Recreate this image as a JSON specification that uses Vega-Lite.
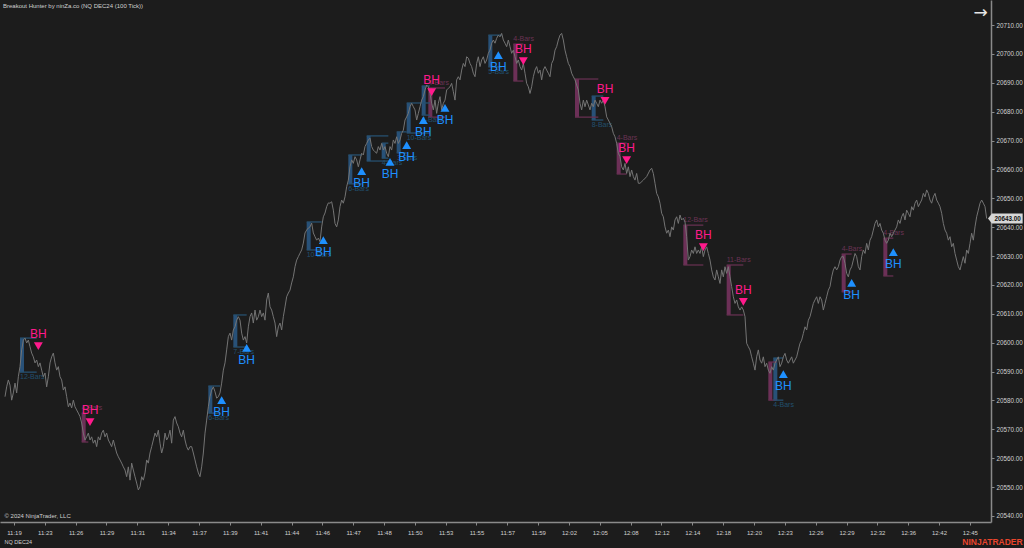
{
"$schema": "https://vega.github.io/schema/vega-lite/v6.json",
"width": 991, "height": 522,
"autosize": {"type": "none"},
"padding": {"left": 0, "top": 0, "right": 33, "bottom": 26},
"background": "#1c1c1c",
"config": {"font": "Liberation Sans", "view": {"stroke": null}, "axis": {"grid": false}},
"title": {"text": "Breakout Hunter by ninZa.co (NQ DEC24 (100 Tick))", "anchor": "start", "frame": "group", "orient": "top", "offset": -12, "baseline": "middle", "dx": 3, "fontSize": 6, "fontWeight": "normal", "color": "#d0d0d0"},
"datasets": {
"boxes": [
{"start":12,"end":22,"hi":20601.6,"lo":20589.8,"kind":"bull","label":"12-Bars"},
{"start":49,"end":53,"hi":20575.6,"lo":20565.6,"kind":"bear","label":"4-Bars"},
{"start":125,"end":132,"hi":20585.0,"lo":20575.6,"kind":"bull","label":"6-Bars"},
{"start":140,"end":148,"hi":20609.6,"lo":20598.5,"kind":"bull","label":"7-Bars"},
{"start":184,"end":193,"hi":20641.8,"lo":20632.1,"kind":"bull","label":"10-Bars"},
{"start":209,"end":217,"hi":20665.0,"lo":20655.0,"kind":"bull","label":"6-Bars"},
{"start":220,"end":233,"hi":20671.6,"lo":20662.9,"kind":"bull","label":""},
{"start":229,"end":233,"hi":20669.1,"lo":20663.9,"kind":"bull","label":"4-Bars"},
{"start":238,"end":244,"hi":20673.0,"lo":20665.7,"kind":"bull","label":"3-Bars"},
{"start":244,"end":258,"hi":20683.0,"lo":20672.6,"kind":"bull","label":"10-Bars"},
{"start":253,"end":258,"hi":20688.9,"lo":20678.8,"kind":"bull","label":"4-Bars"},
{"start":257,"end":267,"hi":20688.2,"lo":20678.1,"kind":"bear","label":"4-Bars"},
{"start":293,"end":301,"hi":20706.5,"lo":20695.5,"kind":"bull","label":"5-Bars"},
{"start":308,"end":314,"hi":20703.4,"lo":20690.6,"kind":"bear","label":"4-Bars"},
{"start":345,"end":359,"hi":20691.3,"lo":20678.1,"kind":"bear","label":""},
{"start":355,"end":362,"hi":20685.4,"lo":20677.1,"kind":"bull","label":"8-Bars"},
{"start":370,"end":376,"hi":20669.1,"lo":20658.4,"kind":"bear","label":"4-Bars"},
{"start":410,"end":422,"hi":20640.7,"lo":20626.9,"kind":"bear","label":"12-Bars"},
{"start":436,"end":446,"hi":20626.9,"lo":20609.6,"kind":"bear","label":"11-Bars"},
{"start":461,"end":466,"hi":20593.3,"lo":20580.1,"kind":"bear","label":""},
{"start":464,"end":470,"hi":20594.7,"lo":20580.1,"kind":"bull","label":"4-Bars"},
{"start":505,"end":511,"hi":20630.7,"lo":20617.6,"kind":"bear","label":"4-Bars"},
{"start":530,"end":536,"hi":20636.2,"lo":20623.1,"kind":"bear","label":"4-Bars"}
],
"signals": [
{"bar":23,"price":20598.8,"dir":"down"},
{"bar":54,"price":20572.5,"dir":"down"},
{"bar":133,"price":20580.1,"dir":"up"},
{"bar":148,"price":20598.2,"dir":"up"},
{"bar":194,"price":20635.5,"dir":"up"},
{"bar":217,"price":20659.4,"dir":"up"},
{"bar":234,"price":20662.6,"dir":"up"},
{"bar":244,"price":20668.4,"dir":"up"},
{"bar":254,"price":20677.1,"dir":"up"},
{"bar":267,"price":20681.3,"dir":"up"},
{"bar":259,"price":20686.8,"dir":"down"},
{"bar":299,"price":20699.6,"dir":"up"},
{"bar":314,"price":20697.5,"dir":"down"},
{"bar":363,"price":20683.7,"dir":"down"},
{"bar":376,"price":20663.2,"dir":"down"},
{"bar":422,"price":20633.1,"dir":"down"},
{"bar":446,"price":20614.1,"dir":"down"},
{"bar":470,"price":20589.1,"dir":"up"},
{"bar":511,"price":20620.7,"dir":"up"},
{"bar":536,"price":20631.4,"dir":"up"}
],
"last": [{"bar":592,"price":20643.0,"text":"20643.00"}],
"price": [
{"bar":3,"price":20581.3},{"bar":4,"price":20584.7},{"bar":5,"price":20587.1},{"bar":6,"price":20585.3},{"bar":7,"price":20580.1},{"bar":8,"price":20582.6},{"bar":9,"price":20586.0},{"bar":10,"price":20582.6},{"bar":11,"price":20588.2},{"bar":12,"price":20591.7},{"bar":13,"price":20597.5},{"bar":14,"price":20600.9},{"bar":15,"price":20601.6},{"bar":16,"price":20599.9},{"bar":17,"price":20600.9},{"bar":18,"price":20598.6},{"bar":19,"price":20596.4},{"bar":20,"price":20595.1},{"bar":21,"price":20593.0},{"bar":22,"price":20594.0},{"bar":23,"price":20591.7},{"bar":24,"price":20593.0},{"bar":25,"price":20590.5},{"bar":26,"price":20588.2},{"bar":27,"price":20589.5},{"bar":28,"price":20584.7},{"bar":29,"price":20588.2},{"bar":30,"price":20593.0},{"bar":31,"price":20595.1},{"bar":32,"price":20596.4},{"bar":33,"price":20593.0},{"bar":34,"price":20590.5},{"bar":35,"price":20591.7},{"bar":36,"price":20588.2},{"bar":37,"price":20587.1},{"bar":38,"price":20583.6},{"bar":39,"price":20584.7},{"bar":40,"price":20581.3},{"bar":41,"price":20577.8},{"bar":42,"price":20579.1},{"bar":43,"price":20577.4},{"bar":44,"price":20580.1},{"bar":45,"price":20577.8},{"bar":46,"price":20576.7},{"bar":47,"price":20575.6},{"bar":48,"price":20574.4},{"bar":49,"price":20572.2},{"bar":50,"price":20568.7},
{"bar":51,"price":20566.3},{"bar":52,"price":20567.4},{"bar":53,"price":20568.7},{"bar":54,"price":20566.3},{"bar":55,"price":20567.4},{"bar":56,"price":20565.2},{"bar":57,"price":20566.3},{"bar":58,"price":20564.0},{"bar":59,"price":20567.4},{"bar":60,"price":20566.3},{"bar":61,"price":20568.7},{"bar":62,"price":20569.7},{"bar":63,"price":20567.4},{"bar":64,"price":20568.7},{"bar":65,"price":20566.3},{"bar":66,"price":20565.2},{"bar":67,"price":20564.0},{"bar":68,"price":20566.3},{"bar":69,"price":20564.0},{"bar":70,"price":20561.8},{"bar":71,"price":20560.5},{"bar":72,"price":20559.4},{"bar":73,"price":20558.3},{"bar":74,"price":20557.0},{"bar":75,"price":20555.9},{"bar":76,"price":20553.6},{"bar":77,"price":20557.0},{"bar":78,"price":20552.4},{"bar":79,"price":20558.3},{"bar":80,"price":20555.9},{"bar":81,"price":20553.6},{"bar":82,"price":20551.4},{"bar":83,"price":20549.0},{"bar":84,"price":20550.1},{"bar":85,"price":20553.6},{"bar":86,"price":20552.4},{"bar":87,"price":20554.9},{"bar":88,"price":20559.4},{"bar":89,"price":20558.3},{"bar":90,"price":20561.8},{"bar":91,"price":20564.0},{"bar":92,"price":20566.3},{"bar":93,"price":20568.7},{"bar":94,"price":20567.4},{"bar":95,"price":20569.7},{"bar":96,"price":20565.2},{"bar":97,"price":20561.8},{"bar":98,"price":20564.0},{"bar":99,"price":20568.7},{"bar":100,"price":20566.3},
{"bar":101,"price":20567.4},{"bar":102,"price":20569.7},{"bar":103,"price":20565.2},{"bar":104,"price":20573.2},{"bar":105,"price":20574.4},{"bar":106,"price":20572.2},{"bar":107,"price":20570.9},{"bar":108,"price":20568.7},{"bar":109,"price":20567.4},{"bar":110,"price":20569.7},{"bar":111,"price":20566.3},{"bar":112,"price":20564.0},{"bar":113,"price":20562.8},{"bar":114,"price":20564.0},{"bar":115,"price":20564.0},{"bar":116,"price":20561.8},{"bar":117,"price":20559.4},{"bar":118,"price":20557.0},{"bar":119,"price":20554.9},{"bar":120,"price":20553.6},{"bar":121,"price":20557.0},{"bar":122,"price":20561.8},{"bar":123,"price":20568.7},{"bar":124,"price":20573.2},{"bar":125,"price":20577.8},{"bar":126,"price":20581.3},{"bar":127,"price":20583.6},{"bar":128,"price":20584.7},{"bar":129,"price":20583.0},{"bar":130,"price":20580.8},{"bar":131,"price":20581.3},{"bar":132,"price":20582.6},{"bar":133,"price":20586.0},{"bar":134,"price":20590.5},{"bar":135,"price":20593.0},{"bar":136,"price":20597.5},{"bar":137,"price":20602.1},{"bar":138,"price":20603.3},{"bar":139,"price":20600.9},{"bar":140,"price":20604.4},{"bar":141,"price":20605.5},{"bar":142,"price":20607.8},{"bar":143,"price":20609.0},{"bar":144,"price":20607.8},{"bar":145,"price":20603.3},{"bar":146,"price":20600.9},{"bar":147,"price":20602.1},{"bar":148,"price":20599.9},{"bar":149,"price":20605.5},{"bar":150,"price":20609.0},
{"bar":151,"price":20610.3},{"bar":152,"price":20606.8},{"bar":153,"price":20611.3},{"bar":154,"price":20607.8},{"bar":155,"price":20609.0},{"bar":156,"price":20611.3},{"bar":157,"price":20609.0},{"bar":158,"price":20610.3},{"bar":159,"price":20607.8},{"bar":160,"price":20614.8},{"bar":161,"price":20617.2},{"bar":162,"price":20612.4},{"bar":163,"price":20611.3},{"bar":164,"price":20609.0},{"bar":165,"price":20606.8},{"bar":166,"price":20602.1},{"bar":167,"price":20605.5},{"bar":168,"price":20606.8},{"bar":169,"price":20604.4},{"bar":170,"price":20609.0},{"bar":171,"price":20612.4},{"bar":172,"price":20615.9},{"bar":173,"price":20617.2},{"bar":174,"price":20618.2},{"bar":175,"price":20620.7},{"bar":176,"price":20622.8},{"bar":177,"price":20626.3},{"bar":178,"price":20628.6},{"bar":179,"price":20629.8},{"bar":180,"price":20631.0},{"bar":181,"price":20632.1},{"bar":182,"price":20634.5},{"bar":183,"price":20638.0},{"bar":184,"price":20639.0},{"bar":185,"price":20639.7},{"bar":186,"price":20640.1},{"bar":187,"price":20641.4},{"bar":188,"price":20638.0},{"bar":189,"price":20636.7},{"bar":190,"price":20635.5},{"bar":191,"price":20636.2},{"bar":192,"price":20635.0},{"bar":193,"price":20640.1},{"bar":194,"price":20643.6},{"bar":195,"price":20644.9},{"bar":196,"price":20647.1},{"bar":197,"price":20648.4},{"bar":198,"price":20648.3},{"bar":199,"price":20648.8},{"bar":200,"price":20645.9},
{"bar":201,"price":20641.3},{"bar":202,"price":20640.1},{"bar":203,"price":20642.5},{"bar":204,"price":20647.1},{"bar":205,"price":20649.4},{"bar":206,"price":20648.3},{"bar":207,"price":20650.5},{"bar":208,"price":20654.0},{"bar":209,"price":20656.3},{"bar":210,"price":20660.9},{"bar":211,"price":20663.3},{"bar":212,"price":20662.1},{"bar":213,"price":20664.4},{"bar":214,"price":20663.3},{"bar":215,"price":20660.9},{"bar":216,"price":20663.3},{"bar":217,"price":20665.6},{"bar":218,"price":20665.0},{"bar":219,"price":20667.9},{"bar":220,"price":20669.0},{"bar":221,"price":20670.2},{"bar":222,"price":20670.8},{"bar":223,"price":20667.9},{"bar":224,"price":20666.7},{"bar":225,"price":20666.1},{"bar":226,"price":20665.6},{"bar":227,"price":20667.9},{"bar":228,"price":20666.7},{"bar":229,"price":20669.0},{"bar":230,"price":20666.7},{"bar":231,"price":20667.9},{"bar":232,"price":20665.6},{"bar":233,"price":20664.4},{"bar":234,"price":20667.9},{"bar":235,"price":20666.7},{"bar":236,"price":20670.2},{"bar":237,"price":20669.0},{"bar":238,"price":20671.3},{"bar":239,"price":20669.0},{"bar":240,"price":20670.2},{"bar":241,"price":20672.5},{"bar":242,"price":20673.6},{"bar":243,"price":20677.1},{"bar":244,"price":20678.2},{"bar":245,"price":20679.4},{"bar":246,"price":20681.7},{"bar":247,"price":20682.9},{"bar":248,"price":20681.7},{"bar":249,"price":20680.6},{"bar":250,"price":20677.1},
{"bar":251,"price":20679.4},{"bar":252,"price":20681.7},{"bar":253,"price":20684.0},{"bar":254,"price":20685.2},{"bar":255,"price":20687.5},{"bar":256,"price":20689.2},{"bar":257,"price":20688.6},{"bar":258,"price":20686.3},{"bar":259,"price":20682.9},{"bar":260,"price":20680.6},{"bar":261,"price":20684.0},{"bar":262,"price":20679.4},{"bar":263,"price":20682.9},{"bar":264,"price":20685.2},{"bar":265,"price":20680.6},{"bar":266,"price":20682.9},{"bar":267,"price":20684.0},{"bar":268,"price":20687.5},{"bar":269,"price":20688.1},{"bar":270,"price":20688.6},{"bar":271,"price":20689.8},{"bar":272,"price":20686.9},{"bar":273,"price":20684.0},{"bar":274,"price":20691.0},{"bar":275,"price":20692.1},{"bar":276,"price":20691.0},{"bar":277,"price":20694.4},{"bar":278,"price":20696.7},{"bar":279,"price":20695.6},{"bar":280,"price":20699.0},{"bar":281,"price":20698.5},{"bar":282,"price":20696.7},{"bar":283,"price":20695.6},{"bar":284,"price":20693.3},{"bar":285,"price":20692.1},{"bar":286,"price":20696.7},{"bar":287,"price":20699.0},{"bar":288,"price":20695.6},{"bar":289,"price":20697.9},{"bar":290,"price":20699.0},{"bar":291,"price":20696.7},{"bar":292,"price":20697.9},{"bar":293,"price":20700.2},{"bar":294,"price":20701.3},{"bar":295,"price":20703.7},{"bar":296,"price":20704.8},{"bar":297,"price":20703.7},{"bar":298,"price":20705.4},{"bar":299,"price":20706.5},{"bar":300,"price":20705.9},
{"bar":301,"price":20707.1},{"bar":302,"price":20704.8},{"bar":303,"price":20703.7},{"bar":304,"price":20702.5},{"bar":305,"price":20704.8},{"bar":306,"price":20702.5},{"bar":307,"price":20700.2},{"bar":308,"price":20701.3},{"bar":309,"price":20699.0},{"bar":310,"price":20696.7},{"bar":311,"price":20697.9},{"bar":312,"price":20695.6},{"bar":313,"price":20694.4},{"bar":314,"price":20696.7},{"bar":315,"price":20693.3},{"bar":316,"price":20689.8},{"bar":317,"price":20688.6},{"bar":318,"price":20686.3},{"bar":319,"price":20688.6},{"bar":320,"price":20692.1},{"bar":321,"price":20694.4},{"bar":322,"price":20695.6},{"bar":323,"price":20693.3},{"bar":324,"price":20694.4},{"bar":325,"price":20691.0},{"bar":326,"price":20694.4},{"bar":327,"price":20695.6},{"bar":328,"price":20694.4},{"bar":329,"price":20693.3},{"bar":330,"price":20692.1},{"bar":331,"price":20696.7},{"bar":332,"price":20697.9},{"bar":333,"price":20701.3},{"bar":334,"price":20702.5},{"bar":335,"price":20704.8},{"bar":336,"price":20706.5},{"bar":337,"price":20707.1},{"bar":338,"price":20704.8},{"bar":339,"price":20701.3},{"bar":340,"price":20699.0},{"bar":341,"price":20696.7},{"bar":342,"price":20695.6},{"bar":343,"price":20693.3},{"bar":344,"price":20692.1},{"bar":345,"price":20691.0},{"bar":346,"price":20689.2},{"bar":347,"price":20687.5},{"bar":348,"price":20682.9},{"bar":349,"price":20680.6},{"bar":350,"price":20684.0},
{"bar":351,"price":20681.7},{"bar":352,"price":20684.0},{"bar":353,"price":20682.3},{"bar":354,"price":20680.6},{"bar":355,"price":20682.9},{"bar":356,"price":20681.7},{"bar":357,"price":20684.0},{"bar":358,"price":20682.9},{"bar":359,"price":20681.7},{"bar":360,"price":20684.0},{"bar":361,"price":20682.9},{"bar":362,"price":20684.0},{"bar":363,"price":20681.7},{"bar":364,"price":20678.2},{"bar":365,"price":20677.1},{"bar":366,"price":20676.0},{"bar":367,"price":20674.8},{"bar":368,"price":20672.5},{"bar":369,"price":20671.3},{"bar":370,"price":20669.0},{"bar":371,"price":20665.6},{"bar":372,"price":20664.4},{"bar":373,"price":20660.9},{"bar":374,"price":20659.8},{"bar":375,"price":20662.1},{"bar":376,"price":20658.6},{"bar":377,"price":20660.9},{"bar":378,"price":20657.5},{"bar":379,"price":20659.8},{"bar":380,"price":20657.5},{"bar":381,"price":20656.3},{"bar":382,"price":20658.6},{"bar":383,"price":20655.2},{"bar":384,"price":20655.2},{"bar":386,"price":20656.3},{"bar":388,"price":20657.5},{"bar":390,"price":20659.8},{"bar":391,"price":20660.4},{"bar":392,"price":20658.6},{"bar":393,"price":20655.2},{"bar":394,"price":20651.7},{"bar":395,"price":20650.5},{"bar":396,"price":20648.3},{"bar":397,"price":20644.8},{"bar":398,"price":20643.6},{"bar":399,"price":20640.1},{"bar":400,"price":20637.9},
{"bar":401,"price":20639.0},{"bar":402,"price":20636.7},{"bar":403,"price":20640.1},{"bar":404,"price":20639.0},{"bar":405,"price":20642.5},{"bar":406,"price":20643.6},{"bar":407,"price":20641.3},{"bar":408,"price":20644.2},{"bar":409,"price":20642.5},{"bar":410,"price":20643.1},{"bar":411,"price":20641.8},{"bar":412,"price":20636.7},{"bar":413,"price":20628.6},{"bar":414,"price":20629.8},{"bar":415,"price":20632.1},{"bar":416,"price":20630.9},{"bar":417,"price":20633.2},{"bar":418,"price":20630.9},{"bar":419,"price":20632.1},{"bar":420,"price":20630.9},{"bar":421,"price":20633.2},{"bar":422,"price":20629.8},{"bar":423,"price":20632.1},{"bar":424,"price":20633.2},{"bar":425,"price":20630.9},{"bar":426,"price":20628.6},{"bar":427,"price":20625.2},{"bar":428,"price":20622.8},{"bar":429,"price":20621.7},{"bar":430,"price":20625.2},{"bar":431,"price":20622.8},{"bar":432,"price":20620.5},{"bar":433,"price":20625.2},{"bar":434,"price":20622.8},{"bar":435,"price":20626.3},{"bar":436,"price":20624.0},{"bar":437,"price":20626.3},{"bar":438,"price":20622.8},{"bar":439,"price":20619.4},{"bar":440,"price":20615.9},{"bar":441,"price":20613.6},{"bar":442,"price":20614.8},{"bar":443,"price":20612.4},{"bar":444,"price":20611.3},{"bar":445,"price":20612.4},{"bar":446,"price":20611.3},{"bar":447,"price":20609.0},{"bar":448,"price":20599.8},{"bar":449,"price":20598.6},{"bar":450,"price":20597.5},
{"bar":451,"price":20595.1},{"bar":452,"price":20592.9},{"bar":453,"price":20590.5},{"bar":454,"price":20595.1},{"bar":455,"price":20597.5},{"bar":456,"price":20594.0},{"bar":457,"price":20592.9},{"bar":458,"price":20595.1},{"bar":459,"price":20591.7},{"bar":460,"price":20592.9},{"bar":461,"price":20590.5},{"bar":462,"price":20589.4},{"bar":463,"price":20591.7},{"bar":464,"price":20590.5},{"bar":465,"price":20592.9},{"bar":466,"price":20594.0},{"bar":467,"price":20595.1},{"bar":468,"price":20591.7},{"bar":469,"price":20592.9},{"bar":470,"price":20595.1},{"bar":471,"price":20596.3},{"bar":472,"price":20594.0},{"bar":473,"price":20592.9},{"bar":474,"price":20594.0},{"bar":475,"price":20595.1},{"bar":476,"price":20592.9},{"bar":477,"price":20594.0},{"bar":478,"price":20595.1},{"bar":479,"price":20597.5},{"bar":480,"price":20599.8},{"bar":481,"price":20600.9},{"bar":482,"price":20603.2},{"bar":483,"price":20605.5},{"bar":484,"price":20604.4},{"bar":485,"price":20607.8},{"bar":486,"price":20609.0},{"bar":487,"price":20611.3},{"bar":488,"price":20613.6},{"bar":489,"price":20614.8},{"bar":490,"price":20615.9},{"bar":491,"price":20613.6},{"bar":492,"price":20615.9},{"bar":493,"price":20614.8},{"bar":494,"price":20611.3},{"bar":495,"price":20613.6},{"bar":496,"price":20615.9},{"bar":497,"price":20618.2},{"bar":498,"price":20619.4},{"bar":499,"price":20622.8},{"bar":500,"price":20625.2},
{"bar":501,"price":20626.3},{"bar":502,"price":20625.2},{"bar":503,"price":20626.3},{"bar":504,"price":20628.6},{"bar":505,"price":20629.8},{"bar":506,"price":20629.8},{"bar":507,"price":20627.5},{"bar":508,"price":20624.0},{"bar":509,"price":20622.8},{"bar":510,"price":20625.2},{"bar":511,"price":20626.3},{"bar":512,"price":20628.6},{"bar":513,"price":20630.9},{"bar":514,"price":20629.8},{"bar":515,"price":20626.3},{"bar":516,"price":20625.2},{"bar":517,"price":20629.8},{"bar":518,"price":20632.1},{"bar":519,"price":20630.9},{"bar":520,"price":20634.4},{"bar":521,"price":20632.1},{"bar":522,"price":20635.5},{"bar":523,"price":20636.7},{"bar":524,"price":20639.0},{"bar":525,"price":20641.3},{"bar":526,"price":20642.5},{"bar":527,"price":20640.1},{"bar":528,"price":20641.3},{"bar":529,"price":20639.0},{"bar":530,"price":20637.9},{"bar":531,"price":20635.5},{"bar":532,"price":20634.4},{"bar":533,"price":20635.5},{"bar":534,"price":20637.9},{"bar":535,"price":20636.7},{"bar":536,"price":20637.9},{"bar":537,"price":20639.0},{"bar":538,"price":20640.1},{"bar":539,"price":20642.5},{"bar":540,"price":20641.3},{"bar":541,"price":20643.6},{"bar":542,"price":20644.8},{"bar":543,"price":20642.5},{"bar":544,"price":20645.9},{"bar":545,"price":20644.8},{"bar":546,"price":20643.6},{"bar":547,"price":20647.1},{"bar":548,"price":20645.9},{"bar":549,"price":20648.3},{"bar":550,"price":20649.4},
{"bar":551,"price":20647.1},{"bar":552,"price":20648.3},{"bar":553,"price":20649.4},{"bar":554,"price":20651.7},{"bar":555,"price":20650.5},{"bar":556,"price":20652.9},{"bar":557,"price":20651.7},{"bar":558,"price":20649.4},{"bar":559,"price":20648.3},{"bar":560,"price":20650.5},{"bar":561,"price":20651.7},{"bar":562,"price":20649.4},{"bar":563,"price":20648.3},{"bar":564,"price":20647.1},{"bar":565,"price":20644.8},{"bar":566,"price":20641.3},{"bar":567,"price":20639.0},{"bar":568,"price":20637.9},{"bar":569,"price":20635.5},{"bar":570,"price":20636.7},{"bar":571,"price":20633.2},{"bar":572,"price":20634.4},{"bar":573,"price":20630.9},{"bar":574,"price":20628.6},{"bar":575,"price":20626.3},{"bar":576,"price":20625.2},{"bar":577,"price":20627.5},{"bar":578,"price":20629.8},{"bar":579,"price":20627.5},{"bar":580,"price":20632.1},{"bar":581,"price":20630.9},{"bar":582,"price":20634.4},{"bar":583,"price":20637.9},{"bar":584,"price":20635.5},{"bar":585,"price":20640.1},{"bar":586,"price":20643.6},{"bar":587,"price":20645.9},{"bar":588,"price":20648.3},{"bar":589,"price":20649.4},{"bar":590,"price":20648.3},{"bar":591,"price":20647.1},{"bar":592,"price":20643.0}
]
},
"resolve": {"axis": {"x": "independent", "y": "independent"}},
"layer": [
{
"data": {"name": "price"},
"mark": {"type": "line", "color": "#858585", "strokeWidth": 1, "opacity": 0},
"encoding": {
"x": {"field": "bar", "type": "quantitative", "scale": {"domain": [0, 594.6], "nice": false, "zero": false},
"axis": {"orient": "bottom", "values": [8.4,26.9,45.4,63.9,82.4,100.9,119.4,137.9,156.4,174.9,193.4,211.9,230.4,248.9,267.4,285.9,304.4,322.9,341.4,359.9,378.4,396.9,415.4,433.9,452.4,470.9,489.4,507.9,526.4,544.9,563.4,581.9],
"labelExpr": "['11:19','11:23','11:26','11:29','11:31','11:34','11:37','11:39','11:41','11:44','11:46','11:47','11:48','11:50','11:53','11:55','11:57','11:59','12:02','12:05','12:08','12:12','12:14','12:18','12:20','12:23','12:26','12:29','12:32','12:36','12:42','12:45'][round((datum.value-8.4)/18.5)]",
"domainColor": "#8a8a8a", "domainWidth": 1.5, "tickColor": "#8a8a8a", "tickSize": 3, "tickWidth": 1,
"labelColor": "#d0d0d0", "labelFontSize": 6, "labelPadding": 4, "labelOverlap": false, "labelFlush": false,
"title": "© 2024 NinjaTrader, LLC", "titleX": 4, "titleY": -7, "titleAlign": "left", "titleAnchor": null, "titleBaseline": "middle", "titleFontSize": 6, "titleFontWeight": "normal", "titleColor": "#d0d0d0"}},
"y": {"field": "price", "type": "quantitative", "scale": {"domain": [20537.91, 20718.66], "nice": false, "zero": false},
"axis": {"orient": "right", "values": [20540,20550,20560,20570,20580,20590,20600,20610,20620,20630,20640,20650,20660,20670,20680,20690,20700,20710],
"format": ".2f", "domainColor": "#8a8a8a", "domainWidth": 1.5, "tickColor": "#8a8a8a", "tickSize": 3, "tickWidth": 1,
"labelColor": "#d0d0d0", "labelFontSize": 6.3, "labelPadding": 2, "labelOverlap": false, "labelFlush": false,
"title": "NQ DEC24", "titleX": -987, "titleY": 541, "titleAngle": 0, "titleAlign": "left", "titleAnchor": null, "titleBaseline": "middle", "titleFontSize": 5.5, "titleFontWeight": "normal", "titleColor": "#d0d0d0"}}
}
},
{
"data": {"name": "boxes"},
"mark": {"type": "rule", "strokeWidth": 4, "xOffset": 2, "opacity": 0.85},
"encoding": {
"x": {"field": "start", "type": "quantitative", "axis": null},
"y": {"field": "lo", "type": "quantitative", "axis": null},
"y2": {"field": "hi"},
"color": {"condition": {"test": "datum.kind == 'bull'", "value": "#2a5a88"}, "value": "#7a3462"}
}
},
{
"data": {"name": "boxes"},
"mark": {"type": "rule", "strokeWidth": 1.3},
"encoding": {
"x": {"field": "start", "type": "quantitative", "axis": null},
"x2": {"field": "end"},
"y": {"field": "hi", "type": "quantitative", "axis": null},
"color": {"condition": {"test": "datum.kind == 'bull'", "value": "#27506f"}, "value": "#653050"}
}
},
{
"data": {"name": "boxes"},
"mark": {"type": "rule", "strokeWidth": 1.3},
"encoding": {
"x": {"field": "start", "type": "quantitative", "axis": null},
"x2": {"field": "end"},
"y": {"field": "lo", "type": "quantitative", "axis": null},
"color": {"condition": {"test": "datum.kind == 'bull'", "value": "#27506f"}, "value": "#653050"}
}
},
{
"data": {"name": "boxes"},
"transform": [{"filter": "datum.label != '' && datum.kind == 'bull'"}],
"mark": {"type": "text", "align": "left", "baseline": "middle", "dy": 5, "fontSize": 7, "color": "#22506e"},
"encoding": {
"x": {"field": "start", "type": "quantitative", "axis": null},
"y": {"field": "lo", "type": "quantitative", "axis": null},
"text": {"field": "label"}
}
},
{
"data": {"name": "boxes"},
"transform": [{"filter": "datum.label != '' && datum.kind == 'bear'"}],
"mark": {"type": "text", "align": "left", "baseline": "middle", "dy": -5, "fontSize": 7, "color": "#6a3354"},
"encoding": {
"x": {"field": "start", "type": "quantitative", "axis": null},
"y": {"field": "hi", "type": "quantitative", "axis": null},
"text": {"field": "label"}
}
},
{
"data": {"name": "price"},
"mark": {"type": "line", "color": "#747474", "strokeWidth": 1},
"encoding": {
"x": {"field": "bar", "type": "quantitative", "axis": null},
"y": {"field": "price", "type": "quantitative", "axis": null}
}
},
{
"data": {"name": "signals"},
"mark": {"type": "point", "filled": true, "size": 80, "opacity": 1, "strokeWidth": 0},
"encoding": {
"x": {"field": "bar", "type": "quantitative", "axis": null},
"y": {"field": "price", "type": "quantitative", "axis": null},
"shape": {"condition": {"test": "datum.dir == 'up'", "value": "triangle-up"}, "value": "triangle-down"},
"color": {"condition": {"test": "datum.dir == 'up'", "value": "#1e90ff"}, "value": "#ff1a8c"}
}
},
{
"data": {"name": "signals"},
"transform": [{"filter": "datum.dir == 'up'"}],
"mark": {"type": "text", "text": "BH", "dy": 12, "fontSize": 12, "baseline": "middle", "align": "center", "color": "#1e90ff"},
"encoding": {
"x": {"field": "bar", "type": "quantitative", "axis": null},
"y": {"field": "price", "type": "quantitative", "axis": null}
}
},
{
"data": {"name": "signals"},
"transform": [{"filter": "datum.dir == 'down'"}],
"mark": {"type": "text", "text": "BH", "dy": -12, "fontSize": 12, "baseline": "middle", "align": "center", "color": "#ff1a8c"},
"encoding": {
"x": {"field": "bar", "type": "quantitative", "axis": null},
"y": {"field": "price", "type": "quantitative", "axis": null}
}
},
{
"data": {"name": "last"},
"mark": {"type": "point", "filled": true, "size": 400, "shape": "M0.13,0 L0.53,-0.5 L3.6,-0.5 L3.6,0.5 L0.53,0.5 Z", "color": "#d6d6d6", "opacity": 1, "strokeWidth": 0},
"encoding": {
"x": {"field": "bar", "type": "quantitative", "axis": null},
"y": {"field": "price", "type": "quantitative", "axis": null}
}
},
{
"data": {"name": "last"},
"mark": {"type": "text", "dx": 21, "fontSize": 6.3, "fontWeight": "bold", "baseline": "middle", "align": "center", "color": "#111111"},
"encoding": {
"x": {"field": "bar", "type": "quantitative",
"axis": {"orient": "top", "domain": false, "ticks": false, "labels": false, "grid": false, "title": "→", "titleX": 980, "titleY": 12, "titleAlign": "center", "titleAnchor": null, "titleBaseline": "middle", "titleFontSize": 17, "titleFontWeight": "normal", "titleFont": "DejaVu Sans", "titleColor": "#e6e6e6"}},
"y": {"field": "price", "type": "quantitative",
"axis": {"orient": "left", "domain": false, "ticks": false, "labels": false, "grid": false, "title": "NINJATRADER", "titleX": 992, "titleY": 541, "titleAngle": 0, "titleAlign": "center", "titleAnchor": null, "titleBaseline": "middle", "titleFontSize": 8.5, "titleFontWeight": "bold", "titleColor": "#e8452c"}},
"text": {"field": "text"}
}
}
]
}
